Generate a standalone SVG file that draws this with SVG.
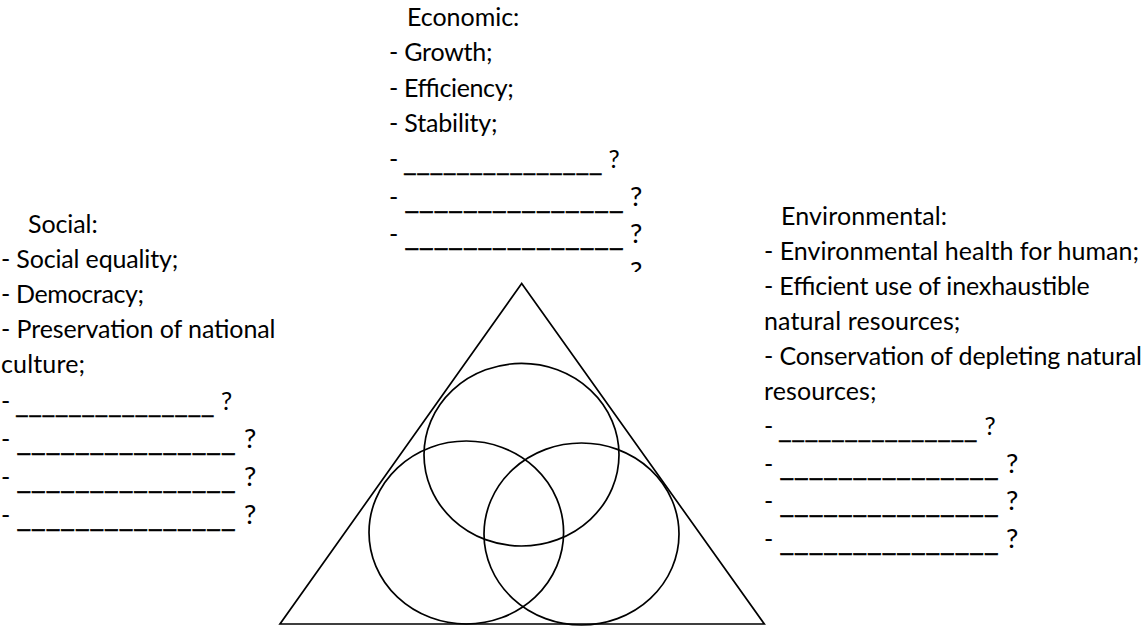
<svg xmlns="http://www.w3.org/2000/svg" width="1144" height="630" viewBox="0 0 1144 630">
<style>
  text { font-family: Lato, "Open Sans", "Liberation Sans", sans-serif; fill: #000; }
  .t { font-size: 25px; }
  .b { font-size: 27.5px; }
  .u { stroke: #000; stroke-width: 0.6; }
  .shape { fill: none; stroke: #000; stroke-width: 1.7; }
</style>
<defs>
  <clipPath id="clipEco4"><rect x="380" y="240" width="300" height="32"/></clipPath>
</defs>
<rect width="1144" height="630" fill="#fff"/>

<g id="economic">
  <text class="t" x="407" y="26" textLength="112.3">Economic:</text>
  <text class="t" x="389" y="61" textLength="103.5">- Growth;</text>
  <text class="t" x="389" y="97" textLength="124.8">- Efficiency;</text>
  <text class="t" x="389" y="132" textLength="108.6">- Stability;</text>
  <text class="t" x="389" y="168">-</text>
  <text class="t u" x="403.2" y="171" textLength="199.2" lengthAdjust="spacingAndGlyphs">_______________</text>
  <text class="t" x="608.4" y="168">?</text>
  <text class="t" x="389" y="206">-</text>
  <text class="b u" x="404.5" y="209" textLength="219" lengthAdjust="spacingAndGlyphs">_______________</text>
  <text class="b" x="630" y="206">?</text>
  <text class="t" x="389" y="243">-</text>
  <text class="b u" x="404.5" y="246" textLength="219" lengthAdjust="spacingAndGlyphs">_______________</text>
  <text class="b" x="630" y="243">?</text>
  <g clip-path="url(#clipEco4)">
    <text class="t" x="389" y="281">-</text>
    <text class="b u" x="404.5" y="284" textLength="219" lengthAdjust="spacingAndGlyphs">_______________</text>
    <text class="b" x="630" y="281">?</text>
  </g>
</g>

<g id="social">
  <text class="t" x="28" y="233" textLength="69.7">Social:</text>
  <text class="t" x="1" y="268" textLength="177.2">- Social equality;</text>
  <text class="t" x="1" y="303" textLength="143.1">- Democracy;</text>
  <text class="t" x="1" y="338" textLength="274.5">- Preservation of national</text>
  <text class="t" x="1" y="373" textLength="84.1">culture;</text>
  <text class="t" x="1" y="410">-</text>
  <text class="t u" x="15.2" y="413" textLength="199.2" lengthAdjust="spacingAndGlyphs">_______________</text>
  <text class="t" x="221" y="410">?</text>
  <text class="t" x="1" y="448">-</text>
  <text class="b u" x="16.5" y="451" textLength="219" lengthAdjust="spacingAndGlyphs">_______________</text>
  <text class="b" x="244" y="448">?</text>
  <text class="t" x="1" y="486">-</text>
  <text class="b u" x="16.5" y="489" textLength="219" lengthAdjust="spacingAndGlyphs">_______________</text>
  <text class="b" x="244" y="486">?</text>
  <text class="t" x="1" y="524">-</text>
  <text class="b u" x="16.5" y="527" textLength="219" lengthAdjust="spacingAndGlyphs">_______________</text>
  <text class="b" x="244" y="524">?</text>
</g>

<g id="environmental">
  <text class="t" x="781" y="225" textLength="166.1">Environmental:</text>
  <text class="t" x="764" y="260" textLength="375">- Environmental health for human;</text>
  <text class="t" x="764" y="295" textLength="325.7">- Efficient use of inexhaustible</text>
  <text class="t" x="764" y="330" textLength="196.4">natural resources;</text>
  <text class="t" x="764" y="365" textLength="377.9">- Conservation of depleting natural</text>
  <text class="t" x="764" y="400" textLength="112.5">resources;</text>
  <text class="t" x="764" y="435">-</text>
  <text class="t u" x="778.2" y="438" textLength="199.2" lengthAdjust="spacingAndGlyphs">_______________</text>
  <text class="t" x="984.5" y="435">?</text>
  <text class="t" x="764" y="473">-</text>
  <text class="b u" x="779.5" y="476" textLength="219" lengthAdjust="spacingAndGlyphs">_______________</text>
  <text class="b" x="1006" y="473">?</text>
  <text class="t" x="764" y="510">-</text>
  <text class="b u" x="779.5" y="513" textLength="219" lengthAdjust="spacingAndGlyphs">_______________</text>
  <text class="b" x="1006" y="510">?</text>
  <text class="t" x="764" y="548">-</text>
  <text class="b u" x="779.5" y="551" textLength="219" lengthAdjust="spacingAndGlyphs">_______________</text>
  <text class="b" x="1006" y="548">?</text>
</g>

<g id="diagram">
  <polygon id="triangle" class="shape" points="521.7,283.5 764.3,624 280,624"/>
  <ellipse id="circle-top" class="shape" cx="521.5" cy="454.7" rx="97.5" ry="91.3"/>
  <ellipse id="circle-left" class="shape" cx="466.3" cy="532.5" rx="97.3" ry="91.5"/>
  <ellipse id="circle-right" class="shape" cx="581.5" cy="534" rx="97.5" ry="91"/>
</g>
</svg>
